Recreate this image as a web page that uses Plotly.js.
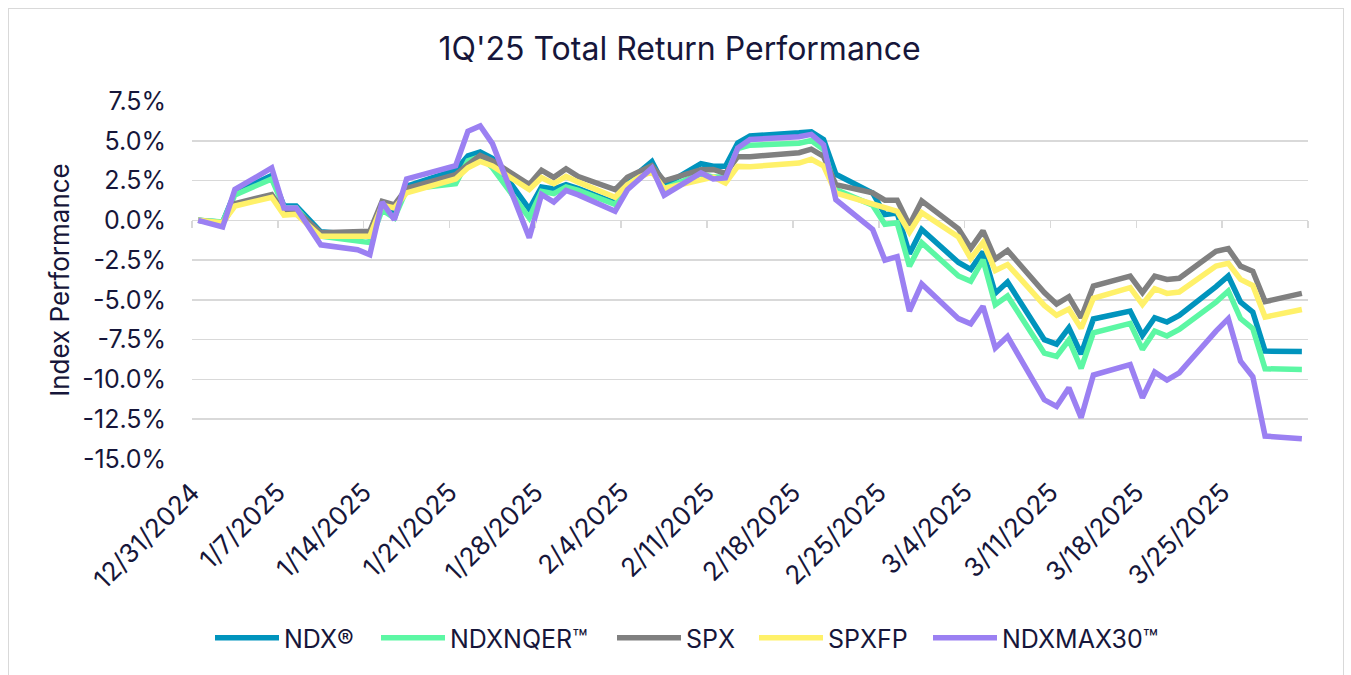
<!DOCTYPE html>
<html>
<head>
<meta charset="utf-8">
<script src="https://cdn.plot.ly/plotly-3.0.1.min.js"></script>
<style>
html,body{margin:0;padding:0;background:#ffffff;}
#chart{width:1351px;height:675px;position:absolute;left:0;top:0;}
#frame{position:absolute;left:8px;top:8px;width:1336px;height:667px;border:1.5px solid #d9d9d9;border-bottom:none;box-sizing:border-box;pointer-events:none;}
</style>
</head>
<body>
<div id="chart"></div>
<div id="frame"></div>
<script>
// Trading days
const dates = [
 '2024-12-31','2025-01-02','2025-01-03','2025-01-06','2025-01-07','2025-01-08','2025-01-10',
 '2025-01-13','2025-01-14','2025-01-15','2025-01-16','2025-01-17','2025-01-21','2025-01-22',
 '2025-01-23','2025-01-24','2025-01-27','2025-01-28','2025-01-29','2025-01-30','2025-01-31',
 '2025-02-03','2025-02-04','2025-02-05','2025-02-06','2025-02-07','2025-02-10','2025-02-11',
 '2025-02-12','2025-02-13','2025-02-14','2025-02-18','2025-02-19','2025-02-20','2025-02-21',
 '2025-02-24','2025-02-25','2025-02-26','2025-02-27','2025-02-28','2025-03-03','2025-03-04',
 '2025-03-05','2025-03-06','2025-03-07','2025-03-10','2025-03-11','2025-03-12','2025-03-13',
 '2025-03-14','2025-03-17','2025-03-18','2025-03-19','2025-03-20','2025-03-21','2025-03-24',
 '2025-03-25','2025-03-26','2025-03-27','2025-03-28','2025-03-31'
];

// Index performance, %
const ndx = [0,-0.12,1.75,2.82,0.9,0.9,-0.72,-0.9,-1.05,1.0,0.35,2.15,3.15,4.05,4.3,3.9,0.7,2.1,1.97,2.24,2.0,
 1.1,2.4,3.05,3.7,2.2,3.56,3.4,3.4,4.86,5.3,5.5,5.57,5.07,2.9,1.72,0.36,0.46,-2.1,-0.58,-2.65,-3.08,
 -1.98,-4.58,-3.88,-7.5,-7.78,-6.76,-8.4,-6.2,-5.7,-7.23,-6.12,-6.39,-5.97,-4.17,-3.5,-5.14,-5.77,-8.22,-8.24];
const ndxnqer = [0,-0.1,1.6,2.6,0.8,0.78,-1.0,-1.3,-1.4,0.65,0.15,1.95,2.3,3.75,4.0,3.3,0.15,1.82,1.68,2.1,1.88,
 1.0,2.15,2.85,3.25,2.0,2.92,2.72,2.72,4.5,4.72,4.85,5.02,4.45,1.93,0.95,-0.25,-0.15,-2.88,-1.4,-3.5,-3.83,
 -2.48,-5.3,-4.75,-8.35,-8.55,-7.52,-9.3,-7.07,-6.48,-8.11,-6.96,-7.27,-6.86,-5.14,-4.44,-6.18,-6.81,-9.33,-9.37];
const spx = [0,-0.2,1.05,1.62,0.47,0.62,-0.78,-0.72,-0.69,1.2,0.97,2.0,2.87,3.5,4.08,3.73,2.25,3.15,2.7,3.24,2.75,
 1.93,2.7,3.07,3.43,2.48,3.18,3.2,2.95,4.0,4.0,4.25,4.47,4.02,2.24,1.73,1.27,1.27,-0.3,1.22,-0.54,-1.76,
 -0.66,-2.43,-1.89,-4.54,-5.26,-4.8,-6.12,-4.13,-3.51,-4.54,-3.51,-3.72,-3.64,-1.94,-1.78,-2.88,-3.2,-5.11,-4.59];
const spxfp = [0,-0.15,0.9,1.45,0.33,0.38,-1.0,-1.0,-1.0,0.95,0.78,1.73,2.6,3.3,3.7,3.42,1.93,2.68,2.3,2.76,2.4,
 1.45,2.24,2.72,3.05,2.0,2.56,2.72,2.35,3.39,3.37,3.6,3.84,3.42,1.72,1.0,0.75,0.57,-0.75,0.48,-1.05,-2.4,
 -1.4,-3.15,-2.78,-5.35,-5.97,-5.58,-6.78,-4.9,-4.23,-5.28,-4.3,-4.59,-4.51,-2.87,-2.7,-3.71,-4.09,-6.08,-5.6];
const ndxmax30 = [0,-0.42,1.94,3.29,0.78,0.78,-1.54,-1.85,-2.16,1.15,0.04,2.6,3.44,5.6,5.93,4.82,-1.1,1.63,1.15,1.88,1.6,
 0.57,1.92,2.64,3.29,1.58,2.98,2.6,2.66,4.55,5.08,5.26,5.4,4.75,1.3,-0.57,-2.5,-2.28,-5.7,-4.0,-6.18,-6.5,
 -5.4,-8.02,-7.3,-11.28,-11.7,-10.53,-12.41,-9.72,-9.06,-11.15,-9.54,-10.04,-9.58,-6.96,-6.18,-8.85,-9.83,-13.56,-13.73];

const seriesNames = ['NDX®','NDXNQER™','SPX','SPXFP','NDXMAX30™'];
const seriesValues = [ndx, ndxnqer, spx, spxfp, ndxmax30];
const seriesColors = ['#0094BD','#5CF7A4','#808080','#FFF169','#9B80F2'];

const tickDates = ['2024-12-31','2025-01-07','2025-01-14','2025-01-21','2025-01-28','2025-02-04',
 '2025-02-11','2025-02-18','2025-02-25','2025-03-04','2025-03-11','2025-03-18','2025-03-25'];
const tickLabels = ['12/31/2024','1/7/2025','1/14/2025','1/21/2025','1/28/2025','2/4/2025',
 '2/11/2025','2/18/2025','2/25/2025','3/4/2025','3/11/2025','3/18/2025','3/25/2025'];
const axisEnd = '2025-04-01';
const yTicks = [7.5,5,2.5,0,-2.5,-5,-7.5,-10,-12.5,-15];

const textColor = '#16163a';
const FONT = 'Inter, "Noto Sans", sans-serif';

// page geometry (px)
const W = 1351, H = 675;
const M = {l: 192, r: 43, t: 101, b: 216};
const plotW = W - M.l - M.r, plotH = H - M.t - M.b;
// legend entry left edges (px) and vertical centre
const legendLeftPx = [210, 376, 612, 754, 928];
const legendCenterPx = 638;

// points sit in the middle of each day slot (date axis, between tick marks)
const xs = dates.map(d => d + ' 12:00');

const legendKeys = seriesNames.map((n, i) => i === 0 ? 'legend' : 'legend' + (i + 1));

const traces = seriesNames.map((n, i) => ({
  type: 'scatter', mode: 'lines', name: n, x: xs, y: seriesValues[i],
  line: {color: seriesColors[i], width: 5.5}, xaxis: 'x', yaxis: 'y', legend: legendKeys[i]
}));
// helper trace for the tick marks drawn on the zero line
traces.push({type:'scatter', mode:'lines', x:[], y:[], xaxis:'x2', yaxis:'y', showlegend:false, hoverinfo:'skip'});

const yMin = -15, yMax = 7.5;

const layout = {
  width: W, height: H,
  paper_bgcolor: '#ffffff', plot_bgcolor: '#ffffff',
  margin: M,
  font: {family: FONT, color: textColor, size: 25},
  title: {text: "1Q'25 Total Return Performance", x: 0.503, xanchor: 'center', y: 0.928, yanchor: 'middle',
          font: {family: FONT, size: 32, color: textColor}},
  xaxis: {
    type: 'date', range: [dates[0], axisEnd],
    tickmode: 'array', tickvals: tickDates, ticktext: tickLabels,
    tickangle: -45, ticks: '', showgrid: false, zeroline: false, showline: false,
    ticklabelstandoff: 12,
    tickfont: {family: FONT, size: 26, color: textColor}, automargin: false
  },
  xaxis2: {
    type: 'date', overlaying: 'x', matches: 'x', anchor: 'free', side: 'bottom',
    position: (0 - yMin) / (yMax - yMin),
    tickmode: 'array', tickvals: tickDates.concat([axisEnd]),
    ticks: 'outside', ticklen: 7, tickwidth: 1.5, tickcolor: '#d9d9d9',
    showticklabels: false, showgrid: false, zeroline: false, showline: false
  },
  yaxis: {
    range: [yMin, yMax], tickmode: 'array', tickvals: yTicks,
    ticktext: yTicks.map(v => v.toFixed(1) + '%'),
    showgrid: true, gridcolor: '#d9d9d9', gridwidth: 1.5, zeroline: false, showline: false,
    ticks: '', ticklabelstandoff: 25,
    tickfont: {family: FONT, size: 25, color: textColor}, automargin: false,
    title: {text: 'Index Performance', standoff: 5, font: {family: FONT, size: 26, color: textColor}}
  },
  showlegend: true
};

legendKeys.forEach((k, i) => {
  layout[k] = {
    orientation: 'h', xanchor: 'left', yanchor: 'middle',
    x: (legendLeftPx[i] - M.l) / plotW,
    y: -(legendCenterPx - (M.t + plotH)) / plotH,
    font: {family: FONT, size: 25, color: textColor},
    itemwidth: 64, borderwidth: 0, bgcolor: 'rgba(0,0,0,0)'
  };
});

Plotly.newPlot('chart', traces, layout, {displayModeBar: false, staticPlot: true});
</script>
</body>
</html>
